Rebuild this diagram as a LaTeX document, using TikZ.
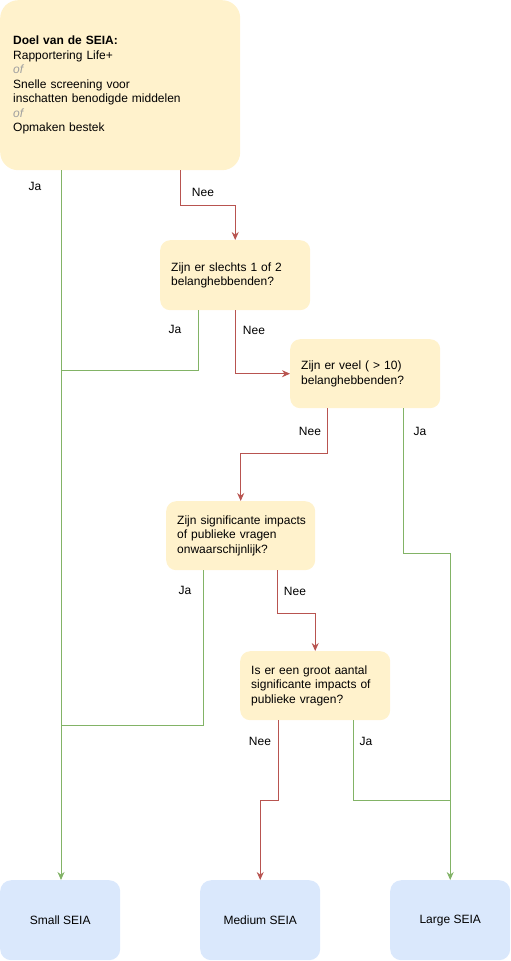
\documentclass[tikz,border=0pt]{standalone}
\usepackage{fontspec}
\setmainfont{Liberation Sans}
\usetikzlibrary{arrows.meta,calc}
\definecolor{yfill}{HTML}{FFF2CC}
\definecolor{bfill}{HTML}{DAE8FC}
\definecolor{gline}{HTML}{82B366}
\definecolor{rline}{HTML}{B85450}
\definecolor{ofgray}{HTML}{A0A0A0}
\tikzset{
  qbox/.style={fill=yfill, draw=none, rounded corners=10pt, anchor=north west,
    align=left, inner xsep=11pt, inner ysep=0pt,
    font=\fontsize{12}{14.5}\selectfont},
  endbox/.style={fill=bfill, draw=none, rounded corners=11pt, anchor=north west,
    minimum width=120pt, minimum height=80pt, inner sep=0pt, align=center,
    font=\fontsize{12}{14.5}\selectfont},
  yes/.style={draw=gline, line width=1pt, -{Stealth[length=8pt,width=7pt]}},
  yesn/.style={draw=gline, line width=1pt},
  no/.style={draw=rline, line width=1pt, -{Stealth[length=8pt,width=7pt]}},
  lbl/.style={font=\fontsize{12}{14}\selectfont, inner sep=0pt},
}
\newcommand{\ofword}{{\color{ofgray}\itshape of}}
\begin{document}
\hyphenpenalty=10000
\exhyphenpenalty=10000
\begin{tikzpicture}[x=1pt,y=1pt]
\useasboundingbox (0,0) rectangle (511,-961);
% question boxes
\node[qbox, inner xsep=13pt, rounded corners=18pt, minimum width=240pt, minimum height=170pt, text width=214pt] (top) at (0,0)
  {\textbf{Doel van de SEIA:}\\Rapportering Life+\\\ofword\\Snelle screening voor\\inschatten benodigde middelen\\\ofword\\Opmaken bestek};
\node[qbox, minimum width=150pt, minimum height=70pt, text width=128pt] (b2) at (160,-240)
  {Zijn er slechts 1 of 2\\belanghebbenden?};
\node[qbox, minimum width=150pt, minimum height=69pt, text width=128pt] (b3) at (290,-339)
  {Zijn er veel ( > 10)\\belanghebbenden?};
\node[qbox, minimum width=149pt, minimum height=69pt, text width=127pt] (b4) at (166,-501)
  {\mbox{Zijn significante impacts}\\of publieke vragen\\onwaarschijnlijk?};
\node[qbox, minimum width=150pt, minimum height=69pt, text width=128pt] (b5) at (240,-651)
  {Is er een groot aantal\\\mbox{significante impacts of}\\publieke vragen?};
% end boxes
\node[endbox] (small) at (0,-880) {Small SEIA};
\node[endbox] (medium) at (200,-880) {Medium SEIA};
\node[endbox] (large) at (390,-880) {Large SEIA};
% junction coordinates
\coordinate (jn1) at (61,-370);
\coordinate (jn2) at (61,-725);
\coordinate (jn3) at (450,-800);
% connectors
\draw[yes] ([xshift=61pt]top.south west) -- ([xshift=61pt]small.north west);
\draw[no] ([xshift=180pt]top.south west) -- ++(0,-35) -| (b2.north);
\draw[yesn] ([xshift=38pt]b2.south west) |- (jn1);
\draw[no] (b2.south) |- (b3.west);
\draw[no] ([xshift=37pt]b3.south west) -- ++(0,-45) -| (b4.north);
\draw[yes] ([xshift=113pt]b3.south west) -- ++(0,-145) -| (large.north);
\draw[yesn] ([xshift=37pt]b4.south west) |- (jn2);
\draw[no] ([xshift=111pt]b4.south west) -- ++(0,-43) -| (b5.north);
\draw[no] ([xshift=38pt]b5.south west) -- ++(0,-80) -| (medium.north);
\draw[yesn] ([xshift=113pt]b5.south west) |- (jn3);
% labels
\node[lbl] (l1) at (35,-186) {Ja};
\node[lbl] (l2) at (203,-192) {Nee};
\node[lbl] (l3) at (175,-329) {Ja};
\node[lbl] (l4) at (254,-330) {Nee};
\node[lbl] (l5) at (310,-431) {Nee};
\node[lbl] (l6) at (420,-431) {Ja};
\node[lbl] (l7) at (185,-590) {Ja};
\node[lbl] (l8) at (295,-591) {Nee};
\node[lbl] (l9) at (260,-741) {Nee};
\node[lbl] (l10) at (366,-741) {Ja};
\end{tikzpicture}
\end{document}
